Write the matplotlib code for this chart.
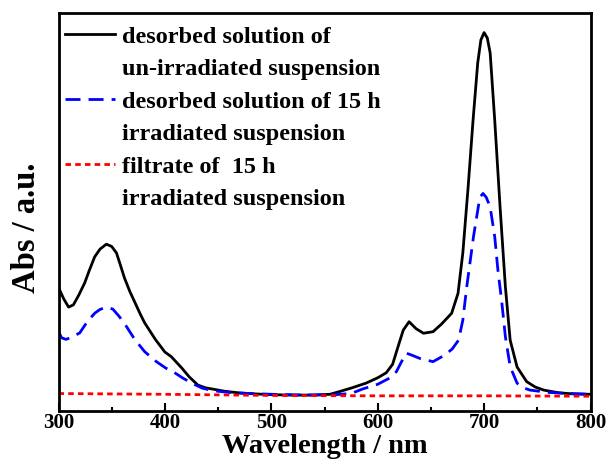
import matplotlib
matplotlib.use("Agg")
import matplotlib.pyplot as plt
from matplotlib.lines import Line2D
from matplotlib.ticker import MultipleLocator

# ---- data (absorbance in arbitrary units) ----
wl_unirr = [300, 301, 305, 309.5, 314, 319, 324.6, 329, 334, 339, 345, 350, 354.5, 358, 362, 367, 372, 377,
            381, 391, 400, 406, 411, 416, 423, 431, 438, 444, 456, 472, 485, 500, 520, 540, 555, 564, 576,
            589, 600, 608, 614, 619, 624, 629.5, 636, 643, 652, 660, 669.5, 675.5, 680, 685, 689.6, 694,
            697, 700, 703, 705.7, 710, 715, 720, 724.5, 731, 740, 748, 756, 770, 784, 800]
abs_unirr = [0.285, 0.279, 0.255, 0.234, 0.24, 0.265, 0.297, 0.33, 0.365, 0.385, 0.398, 0.392, 0.375, 0.345,
             0.31, 0.275, 0.245, 0.215, 0.193, 0.15, 0.117, 0.105, 0.09, 0.075, 0.052, 0.031, 0.024, 0.021,
             0.015, 0.010, 0.008, 0.006, 0.005, 0.005, 0.007, 0.014, 0.024, 0.036, 0.05, 0.063, 0.085, 0.13,
             0.174, 0.196, 0.178, 0.166, 0.17, 0.19, 0.218, 0.27, 0.375, 0.547, 0.72, 0.87, 0.93, 0.949,
             0.935, 0.896, 0.72, 0.495, 0.287, 0.148, 0.078, 0.04, 0.026, 0.018, 0.011, 0.008, 0.007]

wl_irr = [300, 303, 307, 312, 320, 327, 334, 339, 345, 351, 357, 364, 370, 376, 381, 392, 401, 407.6, 417,
          426, 435, 446, 460, 480, 500, 530, 560, 575, 586, 600, 611, 617.6, 622, 627, 632, 640, 652, 663,
          670, 676, 680, 683.7, 690, 696, 699, 702, 705.7, 710, 713, 716.7, 720, 724.5, 731, 737, 743, 760,
          780, 800]
abs_irr = [0.17, 0.154, 0.15, 0.155, 0.167, 0.196, 0.218, 0.228, 0.234, 0.229, 0.21, 0.183, 0.157, 0.135,
           0.118, 0.092, 0.075, 0.066, 0.049, 0.035, 0.023, 0.016, 0.012, 0.009, 0.007, 0.005, 0.006, 0.009,
           0.021, 0.033, 0.049, 0.066, 0.09, 0.114, 0.109, 0.1, 0.092, 0.109, 0.125, 0.148, 0.2, 0.287,
           0.417, 0.52, 0.53, 0.52, 0.495, 0.417, 0.33, 0.245, 0.157, 0.079, 0.036, 0.024, 0.018, 0.012,
           0.009, 0.007]

wl_filt = [300, 400, 500, 600, 700, 800]
abs_filt = [0.009, 0.007, 0.004, 0.003, 0.003, 0.002]

labels = [
    ("desorbed solution of", "un-irradiated suspension"),
    ("desorbed solution of 15 h", "irradiated suspension"),
    ("filtrate of  15 h", "irradiated suspension"),
]
x_ticks = [300, 400, 500, 600, 700, 800]

plt.rcParams['font.family'] = ['Liberation Serif', 'DejaVu Serif']
plt.rcParams['font.weight'] = 'bold'

fig = plt.figure(figsize=(6.08, 4.62), dpi=100)
ax = fig.add_axes([58.5/608, 1-411/462, 532/608, 397.7/462])

l1, = ax.plot(wl_unirr, abs_unirr, color='black', lw=2.0, solid_joinstyle='round')
l2, = ax.plot(wl_irr, abs_irr, color='#0000ff', lw=2.0, dashes=(5.4, 2.9))
l3, = ax.plot(wl_filt, abs_filt, color='#ff0000', lw=2.0, dashes=(2.0, 1.5))

ax.set_xlim(300, 800)
ax.set_ylim(-0.0365, 0.9992)
ax.set_xticks(x_ticks)
ax.xaxis.set_minor_locator(MultipleLocator(50))
ax.set_yticks([])
ax.tick_params(axis='x', which='major', direction='in', length=5.8, width=1.5, labelsize=15, pad=1.5)
ax.tick_params(axis='x', which='minor', direction='in', length=3.0, width=1.5)
for lab in ax.get_xticklabels():
    lab.set_fontweight('bold')
for s in ax.spines.values():
    s.set_linewidth(2.0)

ax.set_xlabel("Wavelength / nm", fontsize=20.5, fontweight='bold', labelpad=0.5)
ax.set_ylabel("Abs / a.u.", fontsize=23.5, fontweight='bold')
ax.yaxis.set_label_coords(-0.031, 0.46)

blank = Line2D([], [], color='none')
handles = [l1, blank, l2, blank, l3, blank]
texts = [labels[0][0], labels[0][1], labels[1][0], labels[1][1], labels[2][0], labels[2][1]]
leg = ax.legend(handles, texts, loc='upper left', frameon=False,
                prop={'weight': 'bold', 'size': 17.5}, handlelength=2.06, handletextpad=0.29,
                labelspacing=0.43, borderpad=0.0, borderaxespad=0.0,
                bbox_to_anchor=(6.5/532, 1 - 12.5/397.7))

fig.savefig("out.png", dpi=100)
